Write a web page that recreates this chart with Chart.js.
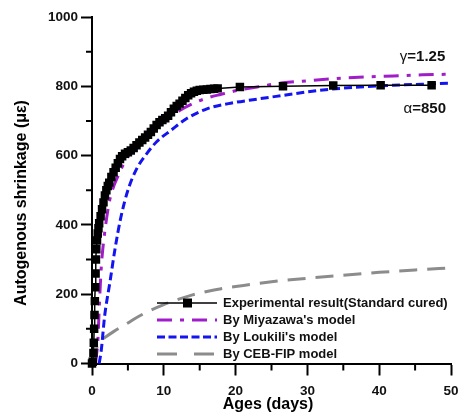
<!DOCTYPE html>
<html>
<head>
<meta charset="utf-8">
<script src="https://cdn.jsdelivr.net/npm/chart.js@4"></script>
<style>
  body { margin: 0; background: #fff; }
</style>
</head>
<body>
<canvas id="chart" width="468" height="415"></canvas>
<script>
// experimental result (standard cured)
const expDays = [0, 0.1, 0.2, 0.25, 0.3, 0.35, 0.4, 0.45, 0.5, 0.55, 0.6, 0.7, 0.8, 0.9, 1.0, 1.2, 1.4, 1.6, 1.8, 2.0,
    2.2, 2.4, 2.7, 3.0, 3.3, 3.6, 3.9, 4.2, 4.6, 5.0, 5.4, 5.8, 6.2, 6.6, 7.0, 7.4, 7.8, 8.2, 8.6, 9.0,
    9.4, 9.8, 10.2, 10.6, 11.0, 11.4, 11.8, 12.2, 12.6, 13.0, 13.4, 13.8, 14.2, 14.6, 15.0, 15.5, 16.0, 16.5, 17.0, 17.5,
    20.6, 26.6, 33.6, 40.2, 47.3];
const expShrink = [0, 5, 30, 60, 100, 140, 180, 220, 260, 300, 330, 355, 375, 390, 405, 425, 445, 465, 485, 500,
    512, 522, 538, 552, 565, 578, 590, 598, 605, 610, 615, 622, 630, 638, 645, 652, 660, 668, 678, 688,
    696, 703, 708, 715, 725, 735, 743, 750, 758, 766, 774, 780, 784, 787, 789, 790, 791, 792, 793, 794,
    798, 800, 802, 803, 803];

// Miyazawa's model
const miyDays = [0.5, 0.6, 0.8, 1.05, 1.3, 1.75, 2.45, 3.0, 3.6, 4.5, 5.5, 7, 8.5, 10, 12, 14, 16, 18, 20, 23, 26.6, 30, 33.6, 38, 42, 46, 50];
const miyShrink = [0, 20, 60, 180, 280, 375, 470, 510, 540, 580, 612, 648, 675, 700, 728, 750, 766, 777, 787, 798, 810, 816, 822, 827, 830, 833, 835];

// Loukili's model
const louDays = [1.0, 1.3, 1.75, 2.5, 3.2, 4.0, 5.0, 6.3, 7.6, 9, 11, 13.2, 16, 19, 23, 27, 30, 34, 38, 42, 46, 50];
const louShrink = [0, 40, 135, 235, 330, 420, 500, 565, 605, 640, 673, 707, 735, 750, 763, 775, 784, 793, 799, 803, 806, 809];

// CEB-FIP model
const cebDays = [0, 0.25, 0.5, 0.75, 1, 1.5, 2, 3, 4, 5, 6, 8, 10, 12, 14, 16, 18, 20, 25, 30, 35, 40, 45, 50];
const cebShrink = [0, 20, 38, 50, 58, 70, 78, 92, 105, 117, 130, 152, 170, 185, 198, 208, 216, 222, 236, 246, 255, 263, 270, 276];

const xTicks = [0, 10, 20, 30, 40, 50];
const yTicks = [0, 200, 400, 600, 800, 1000];

const FONT = '"Liberation Sans", Arial, sans-serif';

const toPoints = (xs, ys) => xs.map((x, i) => ({ x: x, y: ys[i] }));

// short ticks between the labelled ones
const minorTicks = {
    id: 'minorTicks',
    afterDraw(chart) {
        const ctx = chart.ctx;
        const xs = chart.scales.x;
        const ys = chart.scales.y;
        const area = chart.chartArea;
        ctx.save();
        ctx.strokeStyle = '#000';
        ctx.lineWidth = 2;
        ctx.setLineDash([]);
        ctx.beginPath();
        for (let i = 0; i < xTicks.length - 1; i++) {
            const px = xs.getPixelForValue((xTicks[i] + xTicks[i + 1]) / 2);
            ctx.moveTo(px, area.bottom);
            ctx.lineTo(px, area.bottom + 7);
        }
        for (let i = 0; i < yTicks.length - 1; i++) {
            const py = ys.getPixelForValue((yTicks[i] + yTicks[i + 1]) / 2);
            ctx.moveTo(area.left, py);
            ctx.lineTo(area.left - 6, py);
        }
        ctx.stroke();
        ctx.restore();
    }
};

// legend inside the plot, axis titles and model parameters
const extras = {
    id: 'extras',
    afterDraw(chart) {
        const ctx = chart.ctx;
        const xs = chart.scales.x;
        const ys = chart.scales.y;
        ctx.save();
        ctx.textBaseline = 'middle';
        ctx.fillStyle = '#111';

        chart.data.datasets.forEach((ds, i) => {
            const ly = 303 + i * 17;
            ctx.save();
            ctx.strokeStyle = ds.borderColor;
            ctx.lineWidth = ds.borderWidth;
            ctx.setLineDash(ds.legendDash || []);
            ctx.beginPath();
            ctx.moveTo(157, ly);
            ctx.lineTo(217, ly);
            ctx.stroke();
            if (ds.pointRadius > 0) {
                ctx.fillStyle = ds.pointBackgroundColor;
                ctx.fillRect(183, ly - 4.5, 9, 9);
            }
            ctx.restore();
            ctx.font = 'bold 13px ' + FONT;
            ctx.textAlign = 'left';
            ctx.fillText(ds.label, 223, ly + 0.5);
        });

        const param = (greek, rest, day, val) => {
            const px = xs.getPixelForValue(day);
            const py = ys.getPixelForValue(val);
            ctx.font = 'bold 15px ' + FONT;
            ctx.textAlign = 'right';
            ctx.fillText(rest, px, py);
            const w = ctx.measureText(rest).width;
            ctx.font = '15px ' + FONT;
            ctx.fillText(greek, px - w, py);
        };
        param('\u03b3', '=1.25', 49.2, 886);
        param('\u03b1', '=850', 49.3, 736);

        ctx.fillStyle = '#000';
        ctx.font = 'bold 16px ' + FONT;
        ctx.textAlign = 'center';
        ctx.fillText('Ages (days)', 268, 405);
        ctx.translate(22, 203);
        ctx.rotate(-Math.PI / 2);
        ctx.fillText('Autogenous shrinkage (\u03bc\u03b5)', 0, 0);
        ctx.restore();
    }
};

new Chart(document.getElementById('chart'), {
    type: 'line',
    data: {
        datasets: [{
            label: 'Experimental result(Standard cured)',
            data: toPoints(expDays, expShrink),
            borderColor: '#000',
            borderWidth: 1.5,
            pointStyle: 'rect',
            pointRadius: 6,
            pointBackgroundColor: '#000',
            pointBorderWidth: 0,
            tension: 0,
            order: 0
        }, {
            label: "By Miyazawa's model",
            data: toPoints(miyDays, miyShrink),
            borderColor: 'rgb(160, 30, 200)',
            borderWidth: 3,
            borderDash: [15, 8, 4, 8],
            legendDash: [15, 8, 4, 8],
            pointRadius: 0,
            cubicInterpolationMode: 'monotone',
            order: 1
        }, {
            label: "By Loukili's model",
            data: toPoints(louDays, louShrink),
            borderColor: 'rgb(20, 20, 240)',
            borderWidth: 3,
            borderDash: [8, 4],
            legendDash: [8, 3.5],
            pointRadius: 0,
            cubicInterpolationMode: 'monotone',
            order: 2
        }, {
            label: 'By CEB-FIP model',
            data: toPoints(cebDays, cebShrink),
            borderColor: 'rgb(140, 140, 140)',
            borderWidth: 3,
            borderDash: [18, 10],
            legendDash: [20, 17],
            pointRadius: 0,
            cubicInterpolationMode: 'monotone',
            order: 3
        }]
    },
    options: {
        responsive: false,
        animation: false,
        clip: 6,
        layout: { padding: { top: 17, right: 17, left: 0, bottom: 0 } },
        plugins: {
            legend: { display: false },
            tooltip: { enabled: false }
        },
        scales: {
            x: {
                type: 'linear',
                min: 0,
                max: 50,
                afterFit: scale => { scale.height = 51.5; },
                afterBuildTicks: scale => { scale.ticks = xTicks.map(v => ({ value: v })); },
                ticks: {
                    color: '#111',
                    padding: 8,
                    callback: v => String(v),
                    font: { family: FONT, size: 13.5, weight: 'bold' }
                },
                grid: { drawOnChartArea: false, tickLength: 12, tickWidth: 2, tickColor: '#000' },
                border: { color: '#000', width: 2 }
            },
            y: {
                min: 0,
                max: 1000,
                afterFit: scale => { scale.width = 92; },
                afterBuildTicks: scale => { scale.ticks = yTicks.map(v => ({ value: v })); },
                ticks: {
                    color: '#111',
                    padding: 3,
                    callback: v => String(v),
                    font: { family: FONT, size: 13.5, weight: 'bold' }
                },
                grid: { drawOnChartArea: false, tickLength: 11, tickWidth: 2, tickColor: '#000' },
                border: { color: '#000', width: 2 }
            }
        }
    },
    plugins: [minorTicks, extras]
});
</script>
</body>
</html>
